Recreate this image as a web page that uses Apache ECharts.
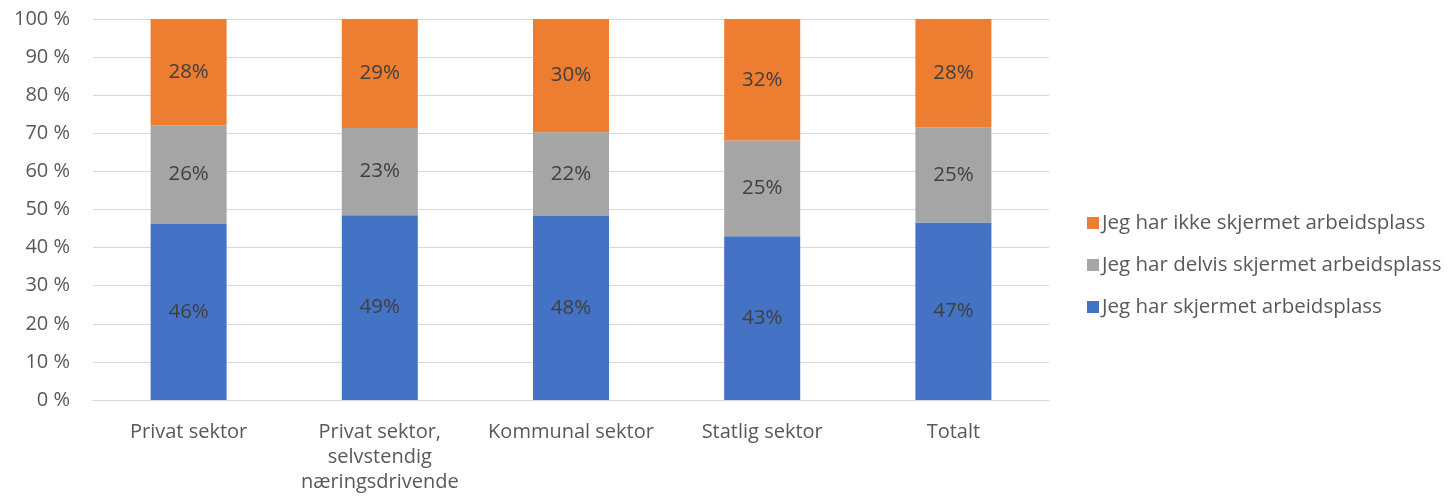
<!DOCTYPE html>
<html>
<head>
<meta charset="utf-8">
<script src="https://cdn.jsdelivr.net/npm/echarts@6/dist/echarts.min.js"></script>
<style>html,body{margin:0;padding:0;background:#fff}#c{width:1454px;height:503px}</style>
</head>
<body>
<div id="c"></div>
<script>
const categories = ['Privat sektor', 'Privat sektor,\nselvstendig\nnæringsdrivende', 'Kommunal sektor', 'Statlig sektor', 'Totalt'];
const skjermet = [46.2, 48.5, 48.3, 43.0, 46.6];
const delvis = [25.9, 22.9, 22.0, 25.1, 25.0];
const ikke = [27.9, 28.6, 29.7, 31.9, 28.4];
const seriesNames = ['Jeg har skjermet arbeidsplass', 'Jeg har delvis skjermet arbeidsplass', 'Jeg har ikke skjermet arbeidsplass'];
const colors = ['#4472c4', '#a5a5a5', '#ed7d31'];

const FONT = '"Open Sans", "Noto Sans", sans-serif';
const chart = echarts.init(document.getElementById('c'), null, {renderer: 'canvas'});
const mk = (name, data, color) => ({
  name, type: 'bar', stack: 'total', data, barWidth: 76,
  itemStyle: {color},
  label: {show: true, position: 'inside', color: '#404040', fontSize: 20.5, fontFamily: FONT,
    formatter: p => Math.round(p.value) + '%'}
});
chart.setOption({
  animation: false,
  textStyle: {fontFamily: FONT},
  grid: {left: 93, right: 405, top: 19, bottom: 103, containLabel: false},
  legend: {
    orient: 'vertical', left: 1082, top: 204, itemGap: 14, itemWidth: 12, itemHeight: 12,
    icon: 'rect',
    data: [seriesNames[2], seriesNames[1], seriesNames[0]],
    textStyle: {color: '#595959', fontSize: 20.5, lineHeight: 28, fontFamily: FONT, padding: [0, 0, 0, -2]}
  },
  xAxis: {
    type: 'category', data: categories,
    axisLine: {lineStyle: {color: '#d9d9d9', width: 1}},
    axisTick: {show: false},
    axisLabel: {color: '#595959', fontSize: 20, fontFamily: FONT, margin: 20, lineHeight: 25, interval: 0}
  },
  yAxis: {
    type: 'value', min: 0, max: 100, interval: 10,
    axisLine: {show: false}, axisTick: {show: false},
    splitLine: {lineStyle: {color: '#d9d9d9', width: 1}},
    axisLabel: {color: '#595959', fontSize: 20, fontFamily: FONT, margin: 23, formatter: v => v + ' %'}
  },
  series: [mk(seriesNames[0], skjermet, colors[0]), mk(seriesNames[1], delvis, colors[1]), mk(seriesNames[2], ikke, colors[2])]
});
</script>
</body>
</html>
